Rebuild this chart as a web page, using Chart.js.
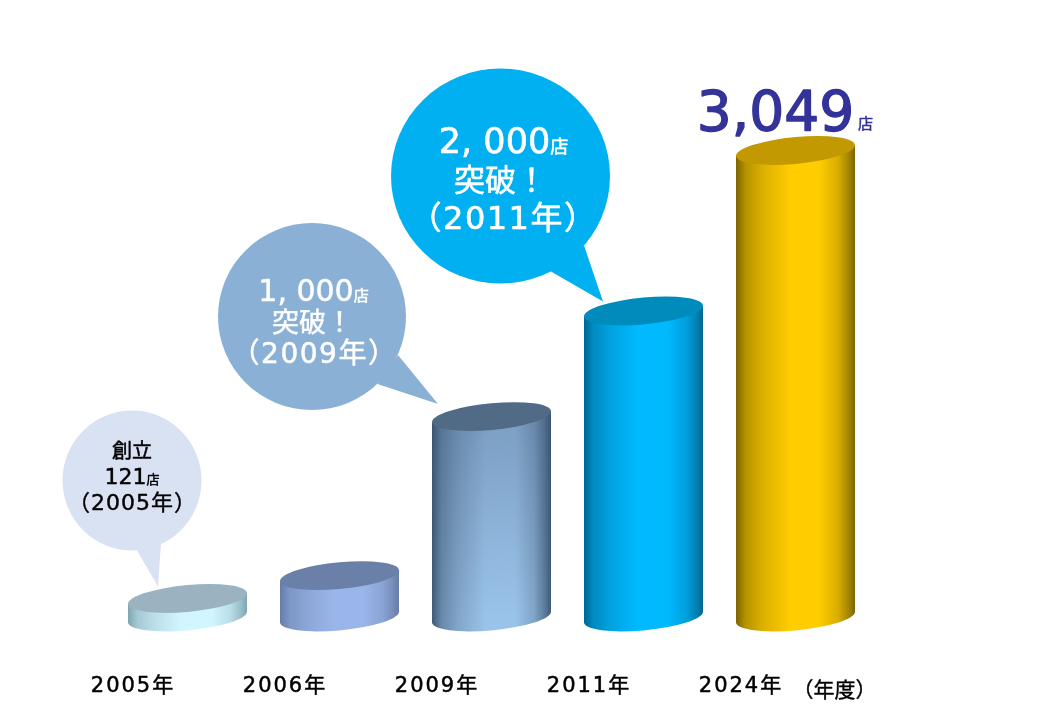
<!DOCTYPE html>
<html>
<head>
<meta charset="utf-8">
<style>
  html, body { margin: 0; padding: 0; background: #fff; }
  #wrap { width: 1040px; height: 720px; }
</style>
<script src="https://cdn.jsdelivr.net/npm/chart.js@4/dist/chart.umd.min.js"></script>
</head>
<body>
<div id="wrap"><canvas id="c"></canvas></div>
<script>
const years = ["2005年", "2006年", "2009年", "2011年", "2024年"];
const stores = [121, 270, 1310, 2000, 3049];
const unitLabel = "（年度）";
const bubble2005 = ["創立", "121", "（2005年）"];
const bubble2009 = ["1, 000", "突破！", "（2009年）"];
const bubble2011 = ["2, 000", "突破！", "（2011年）"];
const totalLabel = "3,049";
const shopChar = "店";

const FONT = '"DejaVu Sans", "Noto Sans CJK JP", sans-serif';

// side gradient: edge, light, top face
const cylColors = [
  { edge: "#7fa5b2", mid: "#d2f6ff", top: "#9bb3c0" },
  { edge: "#667ca6", mid: "#9ab5ea", top: "#6b80a8" },
  { edge: "#3f5a75", mid: "#9ac3ea", top: "#516a85", shade: true },
  { edge: "#00668f", mid: "#00b9ff", top: "#008bbd" },
  { edge: "#7a6400", mid: "#ffcc00", top: "#c29900" }
];

// Helper: blend two #rrggbb colours
function mix(c1, c2, t) {
  const p = c => [1, 3, 5].map(i => parseInt(c.slice(i, i + 2), 16));
  const [a, b] = [p(c1), p(c2)];
  const v = a.map((x, i) => Math.round(x + (b[i] - x) * t));
  return `rgb(${v[0]}, ${v[1]}, ${v[2]})`;
}

// sheared ellipse gives the tilted look of the cylinders
function drawCylinder(ctx, bar, col) {
  const a = bar.width / 2, b = 13.4, h = bar.base - bar.y;
  ctx.save();
  ctx.transform(1, -0.09, 0, 1, bar.x, bar.y);

  const g = ctx.createLinearGradient(-a, 0, a, 0);
  g.addColorStop(0, col.edge);
  g.addColorStop(0.08, mix(col.edge, col.mid, 0.45));
  g.addColorStop(0.22, mix(col.edge, col.mid, 0.72));
  g.addColorStop(0.45, col.mid);
  g.addColorStop(0.7, col.mid);
  g.addColorStop(0.86, mix(col.edge, col.mid, 0.7));
  g.addColorStop(0.95, mix(col.edge, col.mid, 0.3));
  g.addColorStop(1, col.edge);
  ctx.beginPath();
  ctx.moveTo(-a, 0);
  ctx.lineTo(-a, h);
  ctx.ellipse(0, h, a, b, 0, Math.PI, 0, true);
  ctx.lineTo(a, 0);
  ctx.closePath();
  ctx.fillStyle = g;
  ctx.fill();

  // the 2009 bar gets darker towards its top
  if (col.shade) {
    const v = ctx.createLinearGradient(0, 0, 0, h);
    v.addColorStop(0, "rgba(50, 70, 100, 0.3)");
    v.addColorStop(1, "rgba(50, 70, 100, 0)");
    ctx.fillStyle = v;
    ctx.fill();
  }

  ctx.beginPath();
  ctx.ellipse(0, 0, a, b, 0, 0, Math.PI * 2);
  ctx.fillStyle = col.top;
  ctx.fill();
  ctx.restore();
}

function drawBubble(ctx, cx, cy, rx, ry, tail, color) {
  ctx.fillStyle = color;
  ctx.beginPath();
  ctx.ellipse(cx, cy, rx, ry, 0, 0, Math.PI * 2);
  ctx.fill();
  ctx.beginPath();
  ctx.moveTo(cx + tail[0], cy + tail[1]);
  ctx.lineTo(cx + tail[2], cy + tail[3]);
  ctx.lineTo(cx + tail[4], cy + tail[5]);
  ctx.closePath();
  ctx.fill();
}

// centred line made of a big run and a small trailing run, stroked a little to look heavier
function drawLine(ctx, x, y, big, bigSize, small, smallSize, color, weight, spacing) {
  const put = (text, tx) => {
    ctx.fillText(text, tx, y);
    if (weight) ctx.strokeText(text, tx, y);
  };
  ctx.fillStyle = color;
  ctx.strokeStyle = color;
  ctx.lineWidth = weight || 0;
  ctx.lineJoin = "round";
  ctx.textBaseline = "alphabetic";
  ctx.textAlign = "left";
  ctx.letterSpacing = (spacing || 0) + "px";
  ctx.font = bigSize + "px " + FONT;
  const w1 = ctx.measureText(big).width;
  let w2 = 0;
  if (small) {
    ctx.font = smallSize + "px " + FONT;
    w2 = ctx.measureText(small).width;
  }
  const left = x - (w1 + w2) / 2;
  ctx.font = bigSize + "px " + FONT;
  put(big, left);
  if (small) {
    ctx.font = smallSize + "px " + FONT;
    put(small, left + w1);
  }
  ctx.letterSpacing = "0px";
}

const cylinderPlugin = {
  id: "cylinders",
  beforeDraw(chart) {
    chart.ctx.letterSpacing = "2px";
  },
  beforeDatasetDraw() {
    return false; // bars are painted as cylinders below
  },
  afterDatasetsDraw(chart) {
    const ctx = chart.ctx;
    const bars = chart.getDatasetMeta(0).data;
    ctx.save();
    ctx.letterSpacing = "0px";

    // bubbles sit behind the cylinders, anchored on their bars
    const b0 = bars[0], b2 = bars[2], b3 = bars[3], b4 = bars[4];
    drawBubble(ctx, b0.x - 55.5, b0.y - 118, 69.5, 70, [5, 70, 26, 106, 29, 63], "#d9e2f3");
    drawBubble(ctx, b2.x - 179.5, b2.y - 100, 94, 93.5, [65.5, 67.5, 126, 87.5, 86, 38.5], "#8ab0d5");
    drawBubble(ctx, b3.x - 143, b3.y - 135, 109.5, 107.5, [50.5, 95.5, 102.5, 125.5, 83.5, 69.5], "#00b0f0");

    bars.forEach((bar, i) => drawCylinder(ctx, bar, cylColors[i]));

    drawLine(ctx, b0.x - 55.5, b0.y - 140, bubble2005[0], 20, "", 0, "#000", 0.5);
    drawLine(ctx, b0.x - 55.5, b0.y - 114, bubble2005[1], 22, shopChar, 13, "#000", 0.4);
    drawLine(ctx, b0.x - 55, b0.y - 88, bubble2005[2], 22, "", 0, "#000", 0.4, 1);

    drawLine(ctx, b2.x - 178, b2.y - 116, bubble2009[0], 30, shopChar, 15, "#fff", 0.5);
    drawLine(ctx, b2.x - 179, b2.y - 85, bubble2009[1], 27, "", 0, "#fff", 0.5);
    drawLine(ctx, b2.x - 177, b2.y - 54, bubble2009[2], 28, "", 0, "#fff", 0.5, 1.5);

    drawLine(ctx, b3.x - 140, b3.y - 158, bubble2011[0], 35, shopChar, 18, "#fff", 0.6);
    drawLine(ctx, b3.x - 143, b3.y - 120, bubble2011[1], 31, "", 0, "#fff", 0.6);
    drawLine(ctx, b3.x - 140, b3.y - 82, bubble2011[2], 32, "", 0, "#fff", 0.6, 1.5);

    // total above the last bar
    drawLine(ctx, b4.x - 20, b4.y - 20.5, totalLabel, 55, "", 0, "#333399", 1.4);
    drawLine(ctx, b4.x + 70, b4.y - 22, shopChar, 15, "", 0, "#333399", 0.5);

    drawLine(ctx, b4.x + 39, 697, unitLabel, 21, "", 0, "#000", 0.4);
    ctx.restore();
  }
};

new Chart(document.getElementById("c"), {
  type: "bar",
  data: {
    labels: years,
    datasets: [{
      data: stores,
      backgroundColor: cylColors.map(c => c.mid),
      barThickness: 119
    }]
  },
  options: {
    responsive: true,
    maintainAspectRatio: false,
    animation: false,
    layout: { padding: { left: 111.5, right: 168.5, top: 5, bottom: 0 } },
    plugins: { legend: { display: false }, tooltip: { enabled: false } },
    scales: {
      x: {
        afterFit(scale) { scale.height = 103; },
        grid: { display: false },
        border: { display: false },
        ticks: {
          color: "#000", font: { family: FONT, size: 21 }, padding: 49, labelOffset: -54.5, maxRotation: 0,
          textStrokeColor: "#000", textStrokeWidth: 0.5
        }
      },
      y: { display: false, min: 0, max: 4000 }
    }
  },
  plugins: [cylinderPlugin]
});
</script>
</body>
</html>
